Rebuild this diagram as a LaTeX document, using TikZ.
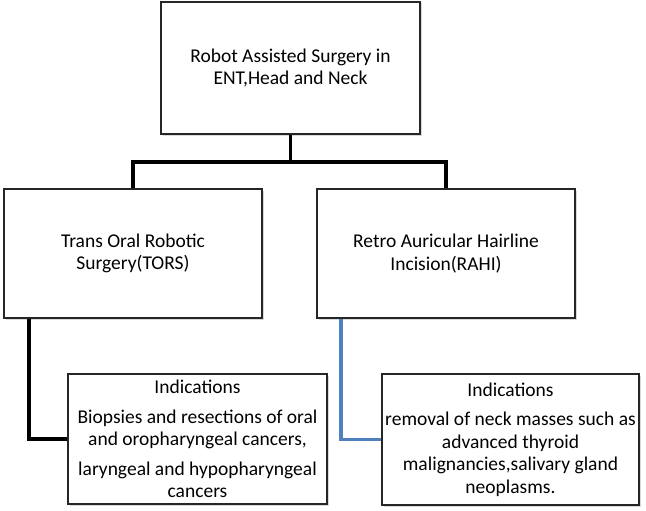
\documentclass[tikz,border=0pt]{standalone}
\usepackage{fontspec}
\setmainfont{Carlito}
\usetikzlibrary{shadows}
\definecolor{officeblue}{RGB}{79,129,189}
\tikzset{
  box/.style={draw=black!85, line width=1.6pt, fill=white, align=center, inner sep=1pt,
    font={\fontsize{19.5}{22.5}\selectfont},
    drop shadow={opacity=0.3, shadow xshift=1.5pt, shadow yshift=-1.5pt}},
  conn/.style={line width=3.8pt},
}
\begin{document}
\begin{tikzpicture}[x=1pt, y=-1pt]
        \useasboundingbox (0,0) rectangle (646,511);
        % root
        \node[box, minimum width=259pt, minimum height=132pt] (robot) at (290.5,68) {Robot Assisted Surgery in\\ENT,Head and Neck};
        % approaches
        \node[box, minimum width=258pt, minimum height=129pt] (tors) at (133,253.5) {Trans Oral Robotic\\Surgery(TORS)};
        \node[box, minimum width=258pt, minimum height=129pt] (rahi) at (446,253.5) {Retro Auricular Hairline\\Incision(RAHI)};
        % indications
        \node[box, minimum width=259pt, minimum height=130pt] (torsind) at (197.5,439) {Indications\\[7pt]Biopsies and resections of oral\\and oropharyngeal cancers,\\[7pt]laryngeal and hypopharyngeal\\cancers};
        \node[box, minimum width=257pt, minimum height=131pt] (rahiind) at (510.5,439.5) {Indications\\[7pt]removal of neck masses such as\\advanced thyroid\\malignancies,salivary gland\\neoplasms.};
        % connectors
        \coordinate (bar) at (290.5,162);
        \draw[conn] (robot.south) -- (bar) -| (tors.north);
        \draw[conn] (bar) -| (rahi.north);
        \draw[conn] ([xshift=26pt]tors.south west) |- (torsind.west);
        \draw[conn, officeblue] ([xshift=25pt]rahi.south west) |- (rahiind.west);
      \end{tikzpicture}
\end{document}
